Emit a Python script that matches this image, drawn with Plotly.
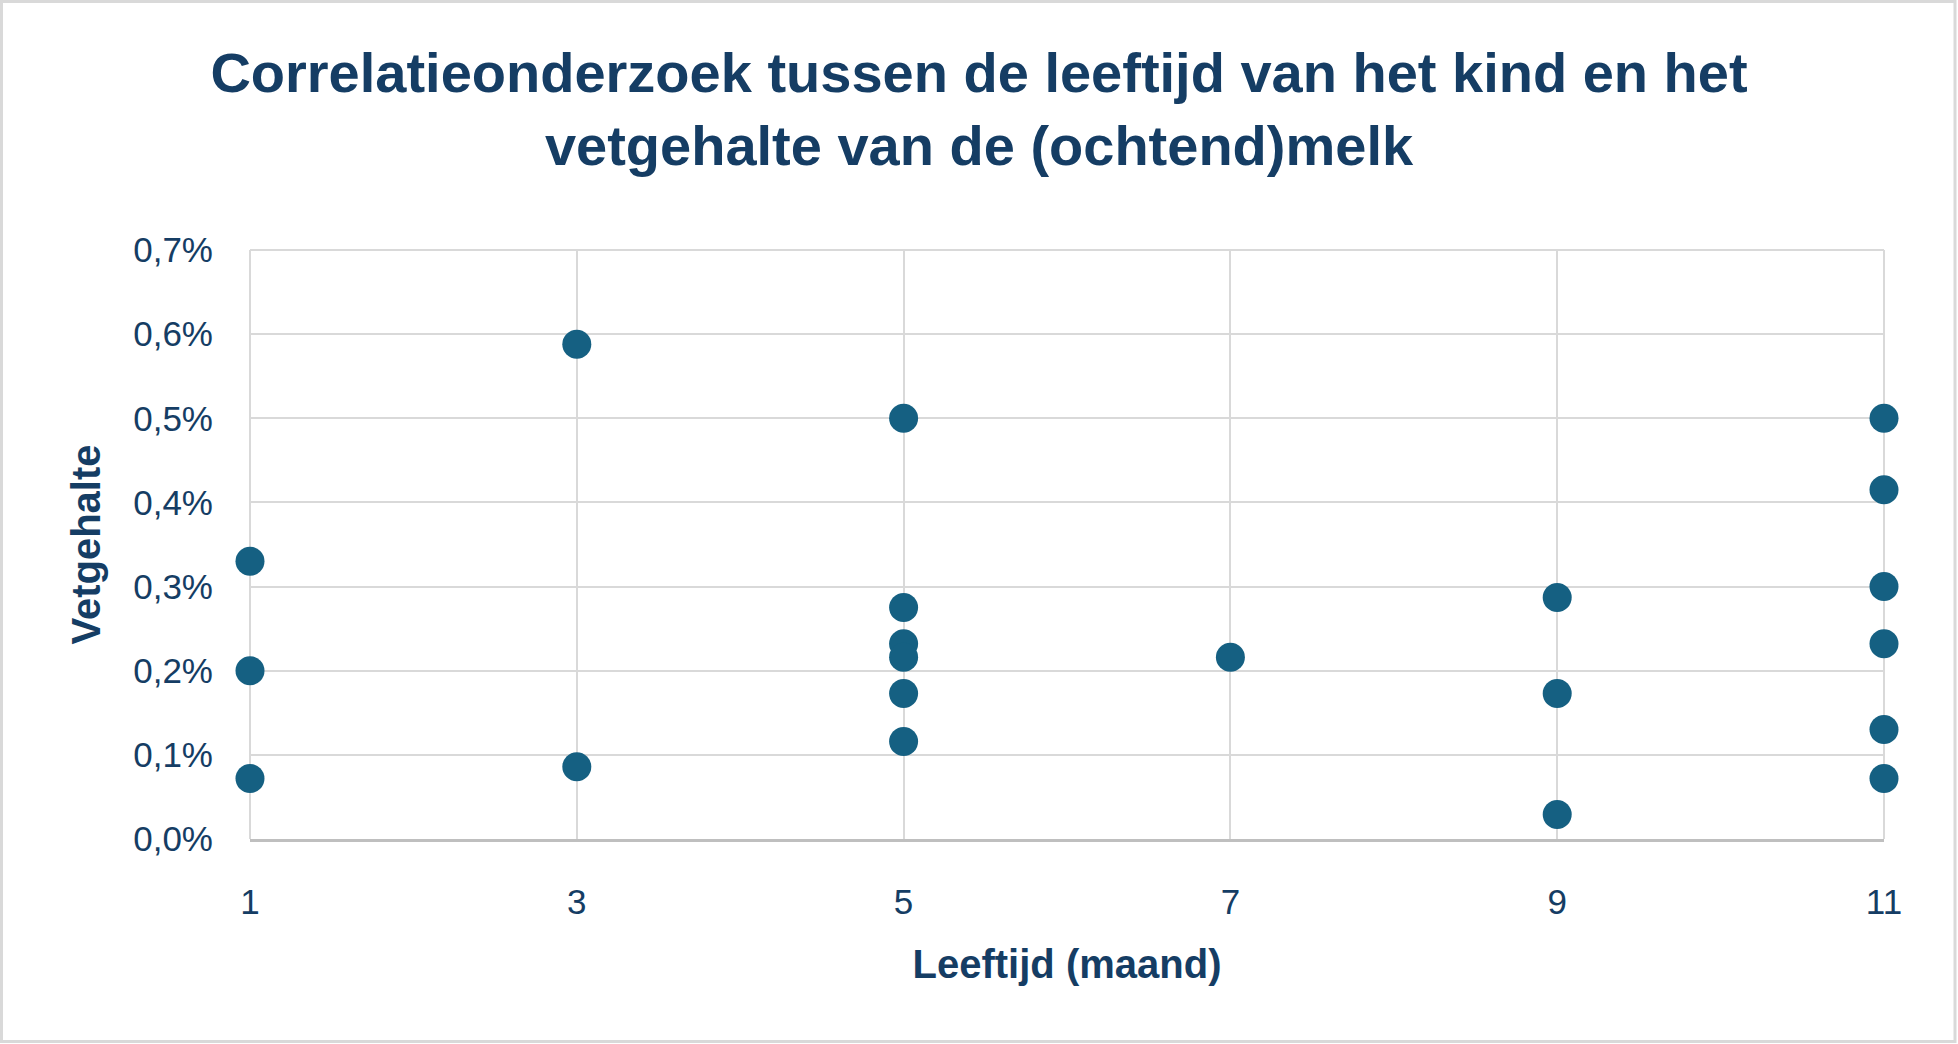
import plotly.graph_objects as go

# Data
leeftijd = [1, 1, 1, 3, 3, 5, 5, 5, 5, 5, 5, 7, 9, 9, 9, 11, 11, 11, 11, 11, 11]
vetgehalte = [0.0033, 0.0020, 0.00072, 0.00588, 0.00086,
              0.0050, 0.00275, 0.00232, 0.00216, 0.00173, 0.00116,
              0.00216,
              0.00287, 0.00173, 0.00029,
              0.0050, 0.00415, 0.0030, 0.00232, 0.0013, 0.00072]
x_ticks = [1, 3, 5, 7, 9, 11]
y_ticks = [0, 0.001, 0.002, 0.003, 0.004, 0.005, 0.006, 0.007]

title_text = ("Correlatieonderzoek tussen de leeftijd van het kind en het<br>"
              "vetgehalte van de (ochtend)melk")

TEXT = "#153D64"
MARK = "#156082"
GRID = "#D9D9D9"

W, H = 1958, 1044
ml, mr, mt, mb = 250, 74, 250, 205

fig = go.Figure()
fig.add_trace(go.Scatter(
    x=leeftijd, y=vetgehalte, mode="markers",
    marker=dict(size=29, color=MARK, line=dict(width=0)),
    cliponaxis=False, showlegend=False,
))

pw = W - ml - mr
ph = H - mt - mb
def px2x(p):
    return (p - ml) / pw
def py2y(p):
    return (H - mb - p) / ph

edge = dict(type="line", xref="paper", yref="paper",
            line=dict(color=GRID, width=2), layer="below")

fig.update_layout(
    width=W, height=H,
    margin=dict(l=ml, r=mr, t=mt, b=mb),
    paper_bgcolor="white", plot_bgcolor="white",
    separators=",.",
    font=dict(family="Liberation Sans, Arial, sans-serif", color=TEXT),
    title=dict(text=title_text, x=0.5, xref="container", xanchor="center",
               y=1 - 92 / H, yref="container", yanchor="middle",
               font=dict(family="Liberation Sans, Arial, sans-serif",
                         size=56, color=TEXT, weight="bold")),
    xaxis=dict(range=[1, 11], tickvals=x_ticks, showgrid=True,
               gridcolor=GRID, gridwidth=2, zeroline=False,
               showline=True, linecolor="#BFBFBF", linewidth=3,
               ticks="", ticklabelstandoff=30,
               tickfont=dict(size=35, color=TEXT),
               title=dict(text="Leeftijd (maand)", standoff=30,
                          font=dict(size=40, color=TEXT, weight="bold"))),
    yaxis=dict(range=[0, 0.007], tickvals=y_ticks, tickformat=".1%",
               showgrid=True, gridcolor=GRID, gridwidth=2, zeroline=False,
               showline=False, ticks="", ticklabelstandoff=36,
               tickfont=dict(size=35, color=TEXT),
               title=dict(text="Vetgehalte", standoff=20,
                          font=dict(size=40, color=TEXT, weight="bold"))),
    shapes=[
        dict(type="rect", xref="paper", yref="paper",
             x0=px2x(1.5), x1=px2x(W - 3), y0=py2y(H - 2.5), y1=py2y(1.5),
             line=dict(color=GRID, width=3), fillcolor="rgba(0,0,0,0)",
             layer="below"),
        dict(edge, x0=0, x1=1, y0=1, y1=1),
        dict(edge, x0=0, x1=0, y0=0, y1=1),
        dict(edge, x0=1, x1=1, y0=0, y1=1),
    ],
)

fig.write_html("out.html")
